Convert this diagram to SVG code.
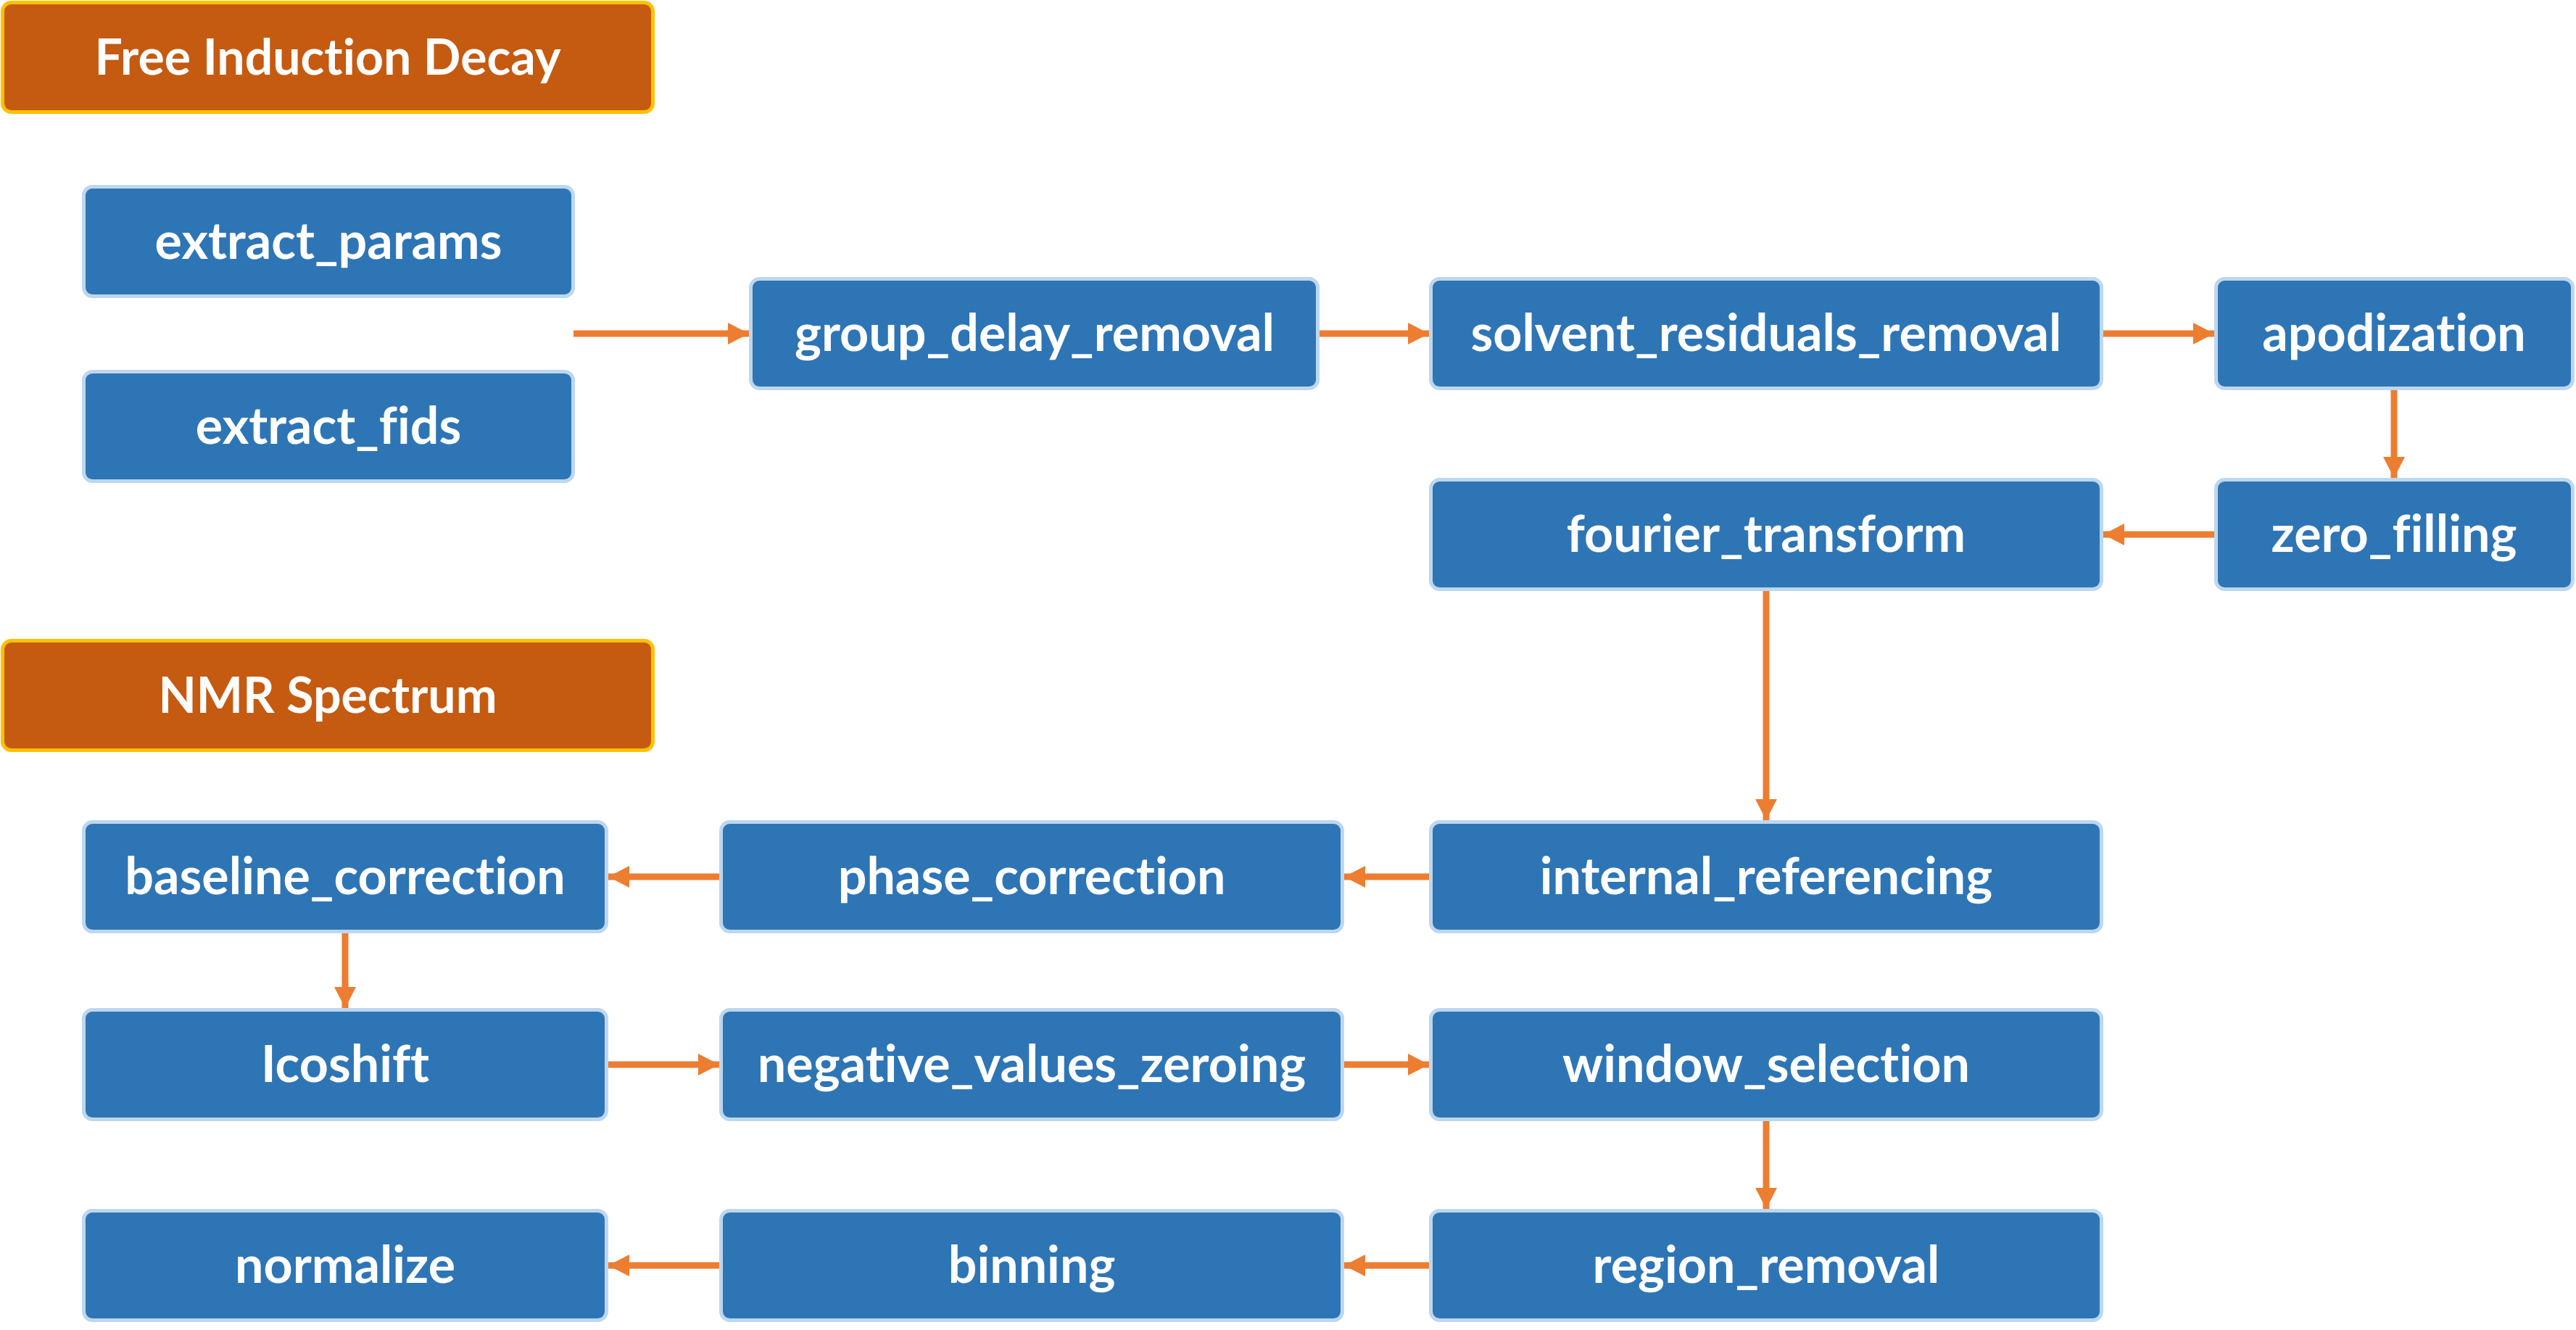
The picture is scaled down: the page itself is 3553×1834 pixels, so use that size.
<svg xmlns="http://www.w3.org/2000/svg" width="3553" height="1834" viewBox="0 0 3553 1834">
<style>
.node rect{fill:#2E75B6;stroke:#BDD7EE;stroke-width:5}
.hdr rect{fill:#C55A11;stroke:#FFC000;stroke-width:5}
text{font-family:Lato,"Open Sans","Liberation Sans",sans-serif;font-weight:bold;font-size:70px;fill:#FFFFFF;text-anchor:middle;font-variant-ligatures:none;font-feature-settings:"liga" 0,"clig" 0}
.hdr text{font-size:68px}
.conn line{stroke:#ED7D31;stroke-width:9}
</style>
<defs>
<marker id="ah" markerUnits="userSpaceOnUse" markerWidth="30" markerHeight="30" refX="29" refY="15" orient="auto">
<path d="M0,0 L29,15 L0,30 Z" fill="#ED7D31"/>
</marker>
</defs>
<rect width="3553" height="1834" fill="#FFFFFF"/>
<g id="hdr-fid" class="hdr"><rect x="3.5" y="3.5" width="897" height="151" rx="12"/><text x="452" y="103">Free Induction Decay</text></g>
<g id="hdr-nmr" class="hdr"><rect x="3.5" y="883.5" width="897" height="151" rx="12"/><text x="452" y="983">NMR Spectrum</text></g>
<g id="extract_params" class="node"><rect x="115.5" y="257.5" width="675" height="151" rx="12"/><text x="453" y="357">extract_params</text></g>
<g id="extract_fids" class="node"><rect x="115.5" y="512.5" width="675" height="151" rx="12"/><text x="453" y="612">extract_fids</text></g>
<g id="group_delay_removal" class="node"><rect x="1035.5" y="384.5" width="782" height="151" rx="12"/><text x="1427" y="484">group_delay_removal</text></g>
<g id="solvent_residuals_removal" class="node"><rect x="1973.5" y="384.5" width="925" height="151" rx="12"/><text x="2436" y="484">solvent_residuals_removal</text></g>
<g id="apodization" class="node"><rect x="3056.5" y="384.5" width="492" height="151" rx="12"/><text x="3302" y="484">apodization</text></g>
<g id="zero_filling" class="node"><rect x="3056.5" y="661.5" width="492" height="151" rx="12"/><text x="3302" y="761">zero_filling</text></g>
<g id="fourier_transform" class="node"><rect x="1973.5" y="661.5" width="925" height="151" rx="12"/><text x="2436" y="761">fourier_transform</text></g>
<g id="internal_referencing" class="node"><rect x="1973.5" y="1133.5" width="925" height="151" rx="12"/><text x="2436" y="1233">internal_referencing</text></g>
<g id="phase_correction" class="node"><rect x="994.5" y="1133.5" width="857" height="151" rx="12"/><text x="1423" y="1233">phase_correction</text></g>
<g id="baseline_correction" class="node"><rect x="115.5" y="1133.5" width="721" height="151" rx="12"/><text x="476" y="1233">baseline_correction</text></g>
<g id="Icoshift" class="node"><rect x="115.5" y="1392.5" width="721" height="151" rx="12"/><text x="476" y="1492">Icoshift</text></g>
<g id="negative_values_zeroing" class="node"><rect x="994.5" y="1392.5" width="857" height="151" rx="12"/><text x="1423" y="1492">negative_values_zeroing</text></g>
<g id="window_selection" class="node"><rect x="1973.5" y="1392.5" width="925" height="151" rx="12"/><text x="2436" y="1492">window_selection</text></g>
<g id="region_removal" class="node"><rect x="1973.5" y="1669.5" width="925" height="151" rx="12"/><text x="2436" y="1769">region_removal</text></g>
<g id="binning" class="node"><rect x="994.5" y="1669.5" width="857" height="151" rx="12"/><text x="1423" y="1769">binning</text></g>
<g id="normalize" class="node"><rect x="115.5" y="1669.5" width="721" height="151" rx="12"/><text x="476" y="1769">normalize</text></g>
<g id="connectors" class="conn">
<line x1="791" y1="460" x2="1033" y2="460" marker-end="url(#ah)"/>
<line x1="1820" y1="460" x2="1971" y2="460" marker-end="url(#ah)"/>
<line x1="2901" y1="460" x2="3054" y2="460" marker-end="url(#ah)"/>
<line x1="3302" y1="538" x2="3302" y2="659" marker-end="url(#ah)"/>
<line x1="3054" y1="737" x2="2901" y2="737" marker-end="url(#ah)"/>
<line x1="2436" y1="815" x2="2436" y2="1131" marker-end="url(#ah)"/>
<line x1="1971" y1="1209" x2="1854" y2="1209" marker-end="url(#ah)"/>
<line x1="992" y1="1209" x2="839" y2="1209" marker-end="url(#ah)"/>
<line x1="476" y1="1287" x2="476" y2="1390" marker-end="url(#ah)"/>
<line x1="839" y1="1468" x2="992" y2="1468" marker-end="url(#ah)"/>
<line x1="1854" y1="1468" x2="1971" y2="1468" marker-end="url(#ah)"/>
<line x1="2436" y1="1546" x2="2436" y2="1667" marker-end="url(#ah)"/>
<line x1="1971" y1="1745" x2="1854" y2="1745" marker-end="url(#ah)"/>
<line x1="992" y1="1745" x2="839" y2="1745" marker-end="url(#ah)"/>
</g>
</svg>
